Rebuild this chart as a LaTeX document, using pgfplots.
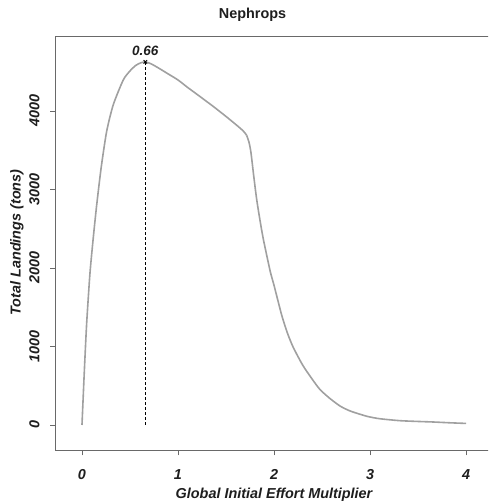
\documentclass[border=0pt]{standalone}
\usepackage{pgfplots}
\pgfplotsset{compat=1.18}
\usepackage{fontspec}
\setmainfont{Liberation Sans}
\definecolor{curvegray}{RGB}{160,160,160}
\definecolor{framegray}{RGB}{105,105,105}
\definecolor{txt}{RGB}{30,30,30}
\pgfplotstableread{
x y
0 0
0.025 700
0.049 1300
0.083 1930
0.118 2390
0.153 2800
0.2 3280
0.257 3740
0.326 4080
0.43 4395
0.5 4510
0.56 4580
0.61 4612
0.66 4625
0.72 4600
0.8 4545
0.9 4470
1.0 4395
1.1 4300
1.2 4210
1.37 4055
1.5 3930
1.6 3830
1.68 3745
1.715 3690
}\curvedataA
\pgfplotstableread{
x y
1.715 3690
1.74 3600
1.76 3470
1.79 3160
1.82 2870
1.855 2600
1.89 2360
1.96 1960
2.0 1780
2.08 1400
2.14 1170
2.2 990
2.3 760
2.4 580
2.48 450
2.58 340
2.69 240
2.8 175
2.97 110
3.1 80
3.31 55
3.5 45
3.66 38
3.83 28
4.0 20
}\curvedataB
\begin{document}
\begin{tikzpicture}
\useasboundingbox (0,0) rectangle (488pt,502pt);
\clip (0,0) rectangle (488pt,502pt);
\begin{axis}[
  at={(55.1pt,51.5pt)}, anchor=south west,
  scale only axis, width=437.8pt, height=413.8pt,
  xmin=-0.28, xmax=4.28, ymin=-325, ymax=4946,
  xtick={0,1,2,3,4}, ytick={0,1000,2000,3000,4000},
  scaled y ticks=false,
  /pgf/number format/1000 sep={},
  /pgf/number format/assume math mode=true,
  tick pos=left, tick align=outside, major tick length=5pt,
  tick style={framegray, line width=0.9pt},
  axis line style={framegray, line width=1.1pt},
  ticklabel style={font=\fontsize{14.4}{16}\selectfont\bfseries\itshape, text=txt},
  xticklabel style={anchor=base, inner sep=0pt, yshift=-24.5pt},
  yticklabel style={xshift=-10.8pt, rotate=90, anchor=base, inner sep=0pt},
  title={Nephrops},
  title style={at={(axis description cs:0.451,1.0283)}, anchor=base, inner sep=0pt, font=\fontsize{14.4}{17}\selectfont\bfseries, text=txt},
  xlabel={Global Initial Effort Multiplier},
  xlabel style={at={(axis description cs:0.5,-0.1148)}, anchor=base, inner sep=0pt, font=\fontsize{14.4}{17}\selectfont\bfseries\itshape, text=txt},
  ylabel={Total Landings (tons)},
  ylabel style={at={(axis description cs:-0.0786,0.503)}, anchor=base, inner sep=0pt, font=\fontsize{14.4}{17}\selectfont\bfseries\itshape, text=txt},
]
\addplot[curvegray, line width=1.6pt, line join=round, smooth, tension=0.4] table[x=x, y=y] {\curvedataA};
\addplot[curvegray, line width=1.6pt, line join=round, smooth, tension=0.4] table[x=x, y=y] {\curvedataB};
\addplot[black, line width=0.9pt, dash pattern=on 3pt off 2pt] coordinates {(0.66,0) (0.66,4625)};
\addplot[black, only marks, mark=x, mark size=2.5pt, mark options={line width=0.9pt}] coordinates {(0.66,4625)}
  node[anchor=base, yshift=6.6pt, inner sep=0pt, font=\fontsize{13.5}{15}\selectfont\bfseries\itshape, text=txt] {0.66};
\end{axis}
\end{tikzpicture}
\end{document}
